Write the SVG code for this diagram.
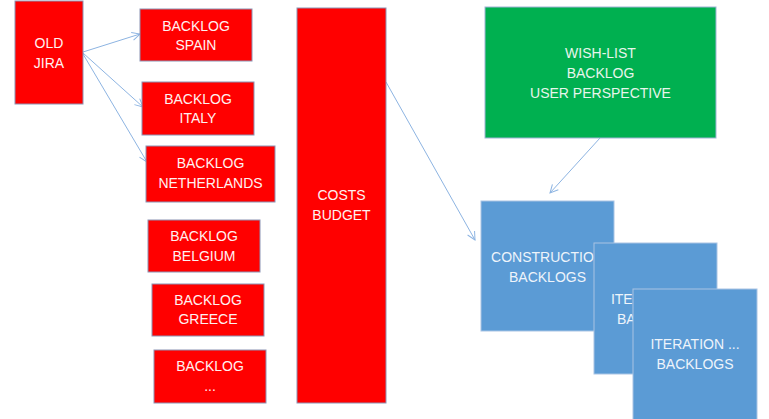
<svg xmlns="http://www.w3.org/2000/svg" width="769" height="419" viewBox="0 0 769 419">
<defs>
<style>
.red{fill:#FF0000;stroke:#8C94B4;stroke-width:1}
.green{fill:#00B050;stroke:#9FB4D6;stroke-width:1}
.blue{fill:#5B9BD5;stroke:#A9C4E4;stroke-width:1}
text{font-family:"Liberation Sans",Arial,sans-serif;font-size:14px;fill:#FFF1F1;text-anchor:middle}
.g text{fill:#E8F5EC}
.b text{fill:#EEF4FB}
.conn{fill:none;stroke:#8DB4E2;stroke-width:1}
</style>
<marker id="arr" viewBox="0 0 10 10" refX="9" refY="5" markerWidth="10" markerHeight="10" markerUnits="userSpaceOnUse" orient="auto">
<path d="M1,1 L9,5 L1,9" fill="none" stroke="#8DB4E2" stroke-width="1"/>
</marker>
</defs>
<rect width="769" height="419" fill="#FFFFFF"/>
<g id="connectors">
<line class="conn" x1="83" y1="52" x2="140" y2="34" marker-end="url(#arr)"/>
<line class="conn" x1="83" y1="53" x2="143" y2="107" marker-end="url(#arr)"/>
<line class="conn" x1="83" y1="54" x2="147" y2="162" marker-end="url(#arr)"/>
<line class="conn" x1="386" y1="82" x2="475" y2="240" marker-end="url(#arr)"/>
<line class="conn" x1="600" y1="138" x2="550" y2="193" marker-end="url(#arr)"/>
</g>
<g id="old-jira"><rect class="red" x="15" y="1" width="68" height="103"/><text x="49" y="48">OLD</text><text x="49" y="68">JIRA</text></g>
<g id="backlog-spain"><rect class="red" x="140" y="9" width="112" height="52"/><text x="196" y="31">BACKLOG</text><text x="196" y="50">SPAIN</text></g>
<g id="backlog-italy"><rect class="red" x="142" y="82" width="112" height="53"/><text x="198" y="104">BACKLOG</text><text x="198" y="123">ITALY</text></g>
<g id="backlog-netherlands"><rect class="red" x="146" y="146" width="129" height="56"/><text x="210.5" y="168">BACKLOG</text><text x="210.5" y="188">NETHERLANDS</text></g>
<g id="backlog-belgium"><rect class="red" x="148" y="220" width="112" height="52"/><text x="204" y="241">BACKLOG</text><text x="204" y="261">BELGIUM</text></g>
<g id="backlog-greece"><rect class="red" x="152" y="284" width="112" height="52"/><text x="208" y="305">BACKLOG</text><text x="208" y="324">GREECE</text></g>
<g id="backlog-more"><rect class="red" x="154" y="350" width="112" height="53"/><text x="210" y="371">BACKLOG</text><text x="210" y="391">...</text></g>
<g id="costs-budget"><rect class="red" x="297" y="8" width="89" height="395"/><text x="341.5" y="200">COSTS</text><text x="341.5" y="220">BUDGET</text></g>
<g id="wish-list" class="g"><rect class="green" x="485" y="7" width="231" height="131"/><text x="600.5" y="58">WISH-LIST</text><text x="600.5" y="78">BACKLOG</text><text x="600.5" y="98">USER PERSPECTIVE</text></g>
<g id="construction-backlogs" class="b"><rect class="blue" x="481" y="201" width="133" height="130"/><text x="547.5" y="262">CONSTRUCTION</text><text x="547.5" y="282">BACKLOGS</text></g>
<g id="iteration-backlogs-1" class="b"><rect class="blue" x="594" y="243" width="123" height="131"/><text x="655.5" y="304">ITERATION ...</text><text x="655.5" y="324">BACKLOGS</text></g>
<g id="iteration-backlogs-2" class="b"><rect class="blue" x="633" y="289" width="124" height="135"/><text x="695" y="349">ITERATION ...</text><text x="695" y="369">BACKLOGS</text></g>
</svg>
